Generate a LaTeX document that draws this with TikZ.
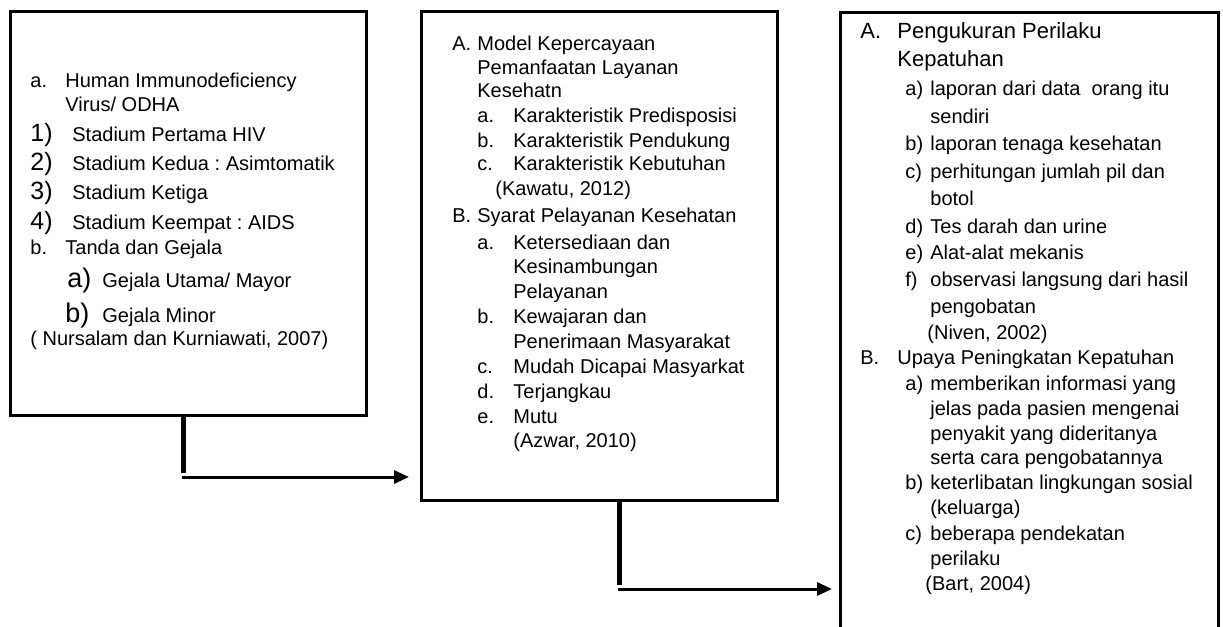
\documentclass[tikz,border=0pt]{standalone}
\usepackage{fontspec}
\setmainfont{Liberation Sans}
\usetikzlibrary{arrows.meta}
\frenchspacing

\newcommand{\lbl}[2]{\makebox[#1][l]{#2}}
\newcommand{\bignum}[1]{\lbl{21pt}{\fontsize{12.5}{14}\selectfont #1}}

\tikzset{
  box/.style={draw, line width=1.5pt, inner sep=0pt, outer sep=0pt},
  txt/.style={anchor=base west, inner sep=0pt, font=\fontsize{10}{12}\selectfont},
  vline/.style={line width=2.5pt},
  hline/.style={line width=1.5pt, -{Triangle[length=7.5pt,width=6.5pt]}}
}

\begin{document}
\begin{tikzpicture}[x=0.5pt, y=-0.5pt]
\useasboundingbox (0,0) rectangle (1223,627);
\clip (0,0) rectangle (1223,627);

\node[box, minimum width=178pt, minimum height=202pt] (b1) at (188,213) {};
\node[box, minimum width=178pt, minimum height=244.5pt] (b2) at (599,255.5) {};
\node[box, minimum width=189pt, minimum height=324pt] (b3) at (1029,336) {};

\node[txt] (p1) at (30,87) {\lbl{17.5pt}{a.}Human Immunodeficiency};
\node[txt] (p2) at (65,111) {Virus/ ODHA};
\node[txt] (p3) at (30,141) {\bignum{1)}Stadium Pertama HIV};
\node[txt] (p4) at (30,170) {\bignum{2)}Stadium Kedua : Asimtomatik};
\node[txt] (p5) at (30,199) {\bignum{3)}Stadium Ketiga};
\node[txt] (p6) at (30,229) {\bignum{4)}Stadium Keempat : AIDS};
\node[txt] (p7) at (30,254) {\lbl{17.5pt}{b.}Tanda dan Gejala};
\node[txt] (p8) at (67,287) {\lbl{17.5pt}{\fontsize{13.5}{14}\selectfont a)}Gejala Utama/ Mayor};
\node[txt] (p9) at (65,322) {\lbl{18.5pt}{\fontsize{13.5}{14}\selectfont b)}Gejala Minor};
\node[txt] (p10) at (30,345) {( Nursalam dan Kurniawati, 2007)};

\node[txt] (q1) at (452,50) {\lbl{12.5pt}{A.}Model Kepercayaan};
\node[txt] (q2) at (477,74) {Pemanfaatan Layanan};
\node[txt] (q3) at (477,97) {Kesehatn};
\node[txt] (q4) at (477,122) {\lbl{18pt}{a.}Karakteristik Predisposisi};
\node[txt] (q5) at (477,147) {\lbl{18pt}{b.}Karakteristik Pendukung};
\node[txt] (q6) at (477,170) {\lbl{18pt}{c.}Karakteristik Kebutuhan};
\node[txt] (q7) at (495,195) {(Kawatu, 2012)};
\node[txt] (q8) at (452,222) {\lbl{12.5pt}{B.}Syarat Pelayanan Kesehatan};
\node[txt] (q9) at (477,249) {\lbl{18pt}{a.}Ketersediaan dan};
\node[txt] (q10) at (513,273) {Kesinambungan};
\node[txt] (q11) at (513,298) {Pelayanan};
\node[txt] (q12) at (477,323) {\lbl{18pt}{b.}Kewajaran dan};
\node[txt] (q13) at (513,348) {Penerimaan Masyarakat};
\node[txt] (q14) at (477,373) {\lbl{18pt}{c.}Mudah Dicapai Masyarkat};
\node[txt] (q15) at (477,398) {\lbl{18pt}{d.}Terjangkau};
\node[txt] (q16) at (477,423) {\lbl{18pt}{e.}Mutu};
\node[txt] (q17) at (513,447) {(Azwar, 2010)};

\node[txt, font=\fontsize{11}{13}\selectfont] (r1) at (860,38) {\lbl{18.5pt}{A.}Pengukuran Perilaku};
\node[txt, font=\fontsize{11}{13}\selectfont] (r2) at (897,66) {Kepatuhan};
\node[txt] (r3) at (905,95) {\lbl{12.5pt}{a)}laporan dari data \ orang itu};
\node[txt] (r4) at (930,123) {sendiri};
\node[txt] (r5) at (905,150) {\lbl{12.5pt}{b)}laporan tenaga kesehatan};
\node[txt] (r6) at (905,178) {\lbl{12.5pt}{c)}perhitungan jumlah pil dan};
\node[txt] (r7) at (930,205) {botol};
\node[txt] (r8) at (905,233) {\lbl{12.5pt}{d)}Tes darah dan urine};
\node[txt] (r9) at (905,259) {\lbl{12.5pt}{e)}Alat-alat mekanis};
\node[txt] (r10) at (905,286) {\lbl{12.5pt}{f)}observasi langsung dari hasil};
\node[txt] (r11) at (930,313) {pengobatan};
\node[txt] (r12) at (927,339) {(Niven, 2002)};
\node[txt] (r13) at (860,364) {\lbl{18.5pt}{B.}Upaya Peningkatan Kepatuhan};
\node[txt] (r14) at (905,390) {\lbl{12.5pt}{a)}memberikan informasi yang};
\node[txt] (r15) at (930,415) {jelas pada pasien mengenai};
\node[txt] (r16) at (930,440) {penyakit yang dideritanya};
\node[txt] (r17) at (930,464) {serta cara pengobatannya};
\node[txt] (r18) at (905,489) {\lbl{12.5pt}{b)}keterlibatan lingkungan sosial};
\node[txt] (r19) at (930,514) {(keluarga)};
\node[txt] (r20) at (905,540) {\lbl{12.5pt}{c)}beberapa pendekatan};
\node[txt] (r21) at (930,565) {perilaku};
\node[txt] (r22) at (925,590) {(Bart, 2004)};

\coordinate (k1) at (183,473);
\coordinate (h1) at (182,477);
\coordinate (k2) at (619,585);
\coordinate (h2) at (618,589);

\draw[vline] (b1.south -| k1) -- (k1);
\draw[hline, shorten >=6pt] (h1) -- (h1 -| b2.west);
\draw[vline] (b2.south -| k2) -- (k2);
\draw[hline, shorten >=4pt] (h2) -- (h2 -| b3.west);
\end{tikzpicture}
\end{document}
